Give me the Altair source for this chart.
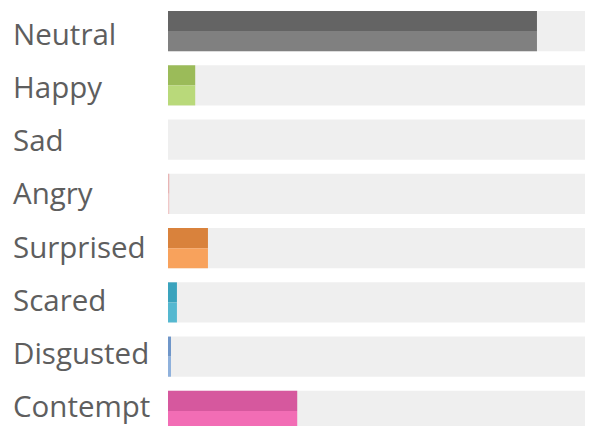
import altair as alt
import pandas as pd

emotions = ["Neutral", "Happy", "Sad", "Angry", "Surprised", "Scared", "Disgusted", "Contempt"]
values = [86.8, 6.4, 0.0, 0.3, 9.4, 2.1, 0.7, 30.4]
dark_colors = ["#646464", "#9bbb59", "#9e9e9e", "#e8b4b4", "#d9823c", "#3aa3bd", "#6f96c9", "#d6589e"]
light_colors = ["#808080", "#b9d97a", "#b0b0b0", "#f0c8c8", "#f8a25c", "#55b8d0", "#8fb1dc", "#f26db5"]

rows = []
for e, v, d, l in zip(emotions, values, dark_colors, light_colors):
    rows.append({"emotion": e, "value": v, "half": "a", "color": d})
    rows.append({"emotion": e, "value": v, "half": "b", "color": l})
df = pd.DataFrame(rows)
track = pd.DataFrame({"emotion": emotions, "full": [100] * len(emotions)})

yscale = alt.Scale(domain=emotions, range=[0, 420], paddingInner=0.26, paddingOuter=0)
xscale = alt.Scale(domain=[0, 98.1], nice=False, zero=True)

base_track = alt.Chart(track).mark_bar(color="#efefef", clip=True).encode(
    y=alt.Y("emotion:N", scale=yscale, axis=None, sort=emotions),
    x=alt.X("full:Q", scale=xscale, axis=None),
)

bars = alt.Chart(df).mark_bar(clip=True).encode(
    y=alt.Y("emotion:N", scale=yscale, sort=emotions, axis=None),
    yOffset=alt.YOffset("half:N", scale=alt.Scale(paddingInner=0, paddingOuter=0)),
    x=alt.X("value:Q", scale=xscale, axis=None),
    color=alt.Color("color:N", scale=None),
)

labels = alt.Chart(track).mark_text(
    align="left", baseline="alphabetic", font="Open Sans", fontSize=29.5,
    color="#5e5e5e",
).encode(
    y=alt.Y("emotion:N", scale=alt.Scale(type="point", domain=emotions, range=[34, 406], padding=0),
            axis=None, sort=emotions),
    x=alt.value(-155),
    text="emotion:N",
)

chart = alt.layer(base_track, bars, labels).resolve_scale(y="independent").properties(
    width=417, height=415,
    autosize=alt.AutoSizeParams(type="none"),
    padding={"left": 160, "top": 3, "right": 0, "bottom": 0},
).configure_view(stroke=None)

chart.save("out.html", embed_options={"renderer": "svg", "actions": False})
